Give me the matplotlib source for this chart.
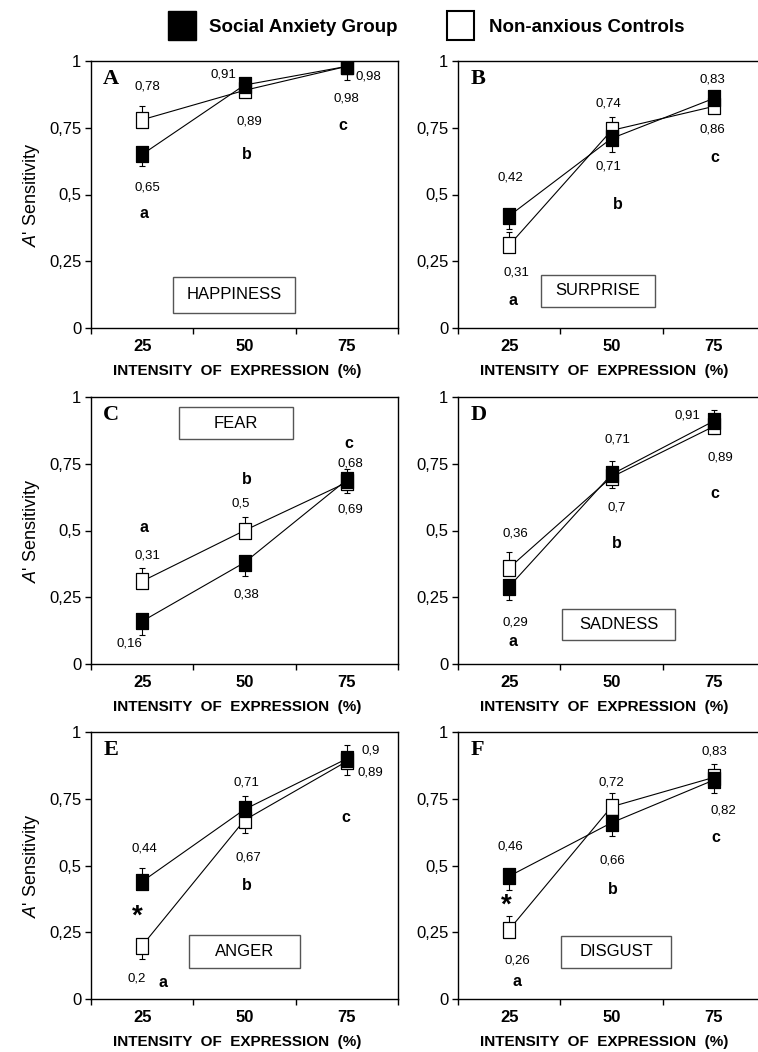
import matplotlib
matplotlib.use("Agg")
import matplotlib.pyplot as plt
from matplotlib.patches import Rectangle

plt.rcParams['font.family'] = ['Liberation Sans', 'DejaVu Sans']
plt.rcParams['mathtext.fontset'] = 'custom'
plt.rcParams['mathtext.it'] = 'Liberation Sans:italic'
plt.rcParams['mathtext.rm'] = 'Liberation Sans'

# data
intensity = ["25", "50", "75"]
emotions = ["HAPPINESS", "SURPRISE", "FEAR", "SADNESS", "ANGER", "DISGUST"]
panel_letters = ["A", "B", "C", "D", "E", "F"]
posthoc = ["a", "b", "c"]

sa_mean = [[0.65, 0.91, 0.98], [0.42, 0.71, 0.86], [0.16, 0.38, 0.69],
           [0.29, 0.71, 0.91], [0.44, 0.71, 0.90], [0.46, 0.66, 0.82]]
nc_mean = [[0.78, 0.89, 0.98], [0.31, 0.74, 0.83], [0.31, 0.50, 0.68],
           [0.36, 0.70, 0.89], [0.20, 0.67, 0.89], [0.26, 0.72, 0.83]]
# one-sided error bars: + drawn upwards, - drawn downwards
sa_err = [[-0.045, 0, 0.04], [-0.05, -0.05, 0], [-0.05, -0.05, 0.04],
          [-0.05, 0.05, 0.04], [0.05, 0.05, 0.05], [-0.05, -0.05, -0.05]]
nc_err = [[0.05, 0, -0.05], [0.05, 0.05, 0], [0.05, 0.05, -0.04],
          [0.06, -0.04, -0.03], [-0.05, -0.05, -0.05], [0.05, 0.05, 0.05]]
significant = [False, False, False, False, True, True]

# where the annotations sit (data coords) and the emotion boxes (axes coords)
label_layout = [
    dict(sa=[(0.55, 0.528), (1.29, 0.95), (2.71, 0.941)],
         nc=[(0.55, 0.905), (1.55, 0.775), (2.50, 0.858)],
         abc=[(0.52, 0.427), (1.52, 0.65), (2.46, 0.757)],
         star=None, box=(0.466, 0.124, 0.397, 0.135)),
    dict(sa=[(0.51, 0.564), (1.47, 0.605), (2.49, 0.744)],
         nc=[(0.57, 0.208), (1.47, 0.842), (2.49, 0.93)],
         abc=[(0.54, 0.103), (1.56, 0.462), (2.51, 0.64)],
         star=None, box=(0.456, 0.139, 0.371, 0.12)),
    dict(sa=[(0.38, 0.077), (1.52, 0.26), (2.53, 0.58)],
         nc=[(0.55, 0.408), (1.46, 0.60), (2.53, 0.75)],
         abc=[(0.52, 0.513), (1.52, 0.69), (2.52, 0.826)],
         star=None, box=(0.472, 0.902, 0.371, 0.12)),
    dict(sa=[(0.56, 0.156), (1.56, 0.84), (2.24, 0.93)],
         nc=[(0.56, 0.488), (1.55, 0.585), (2.56, 0.773)],
         abc=[(0.54, 0.086), (1.55, 0.45), (2.51, 0.64)],
         star=None, box=(0.523, 0.149, 0.368, 0.117)),
    dict(sa=[(0.52, 0.564), (1.52, 0.81), (2.73, 0.93)],
         nc=[(0.45, 0.075), (1.54, 0.53), (2.73, 0.85)],
         abc=[(0.70, 0.062), (1.52, 0.425), (2.49, 0.68)],
         star=(0.45, 0.31), box=(0.50, 0.179, 0.362, 0.124)),
    dict(sa=[(0.51, 0.57), (1.51, 0.52), (2.59, 0.707)],
         nc=[(0.58, 0.143), (1.50, 0.81), (2.51, 0.926)],
         abc=[(0.58, 0.065), (1.51, 0.41), (2.52, 0.606)],
         star=(0.47, 0.35), box=(0.515, 0.177, 0.358, 0.12)),
]

W, H = 758, 1052
col_left = [91, 458]
row_top = [61, 397, 732]
ax_w, ax_h = 307, 267

rect_marker = [(-0.34, -0.5), (0.34, -0.5), (0.34, 0.5), (-0.34, 0.5), (-0.34, -0.5)]
xpos = [0.5, 1.5, 2.5]


def fmt(v):
    return f"{v:g}".replace(".", ",")


def split_err(err):
    lo = [-e if e < 0 else 0 for e in err]
    hi = [e if e > 0 else 0 for e in err]
    return [lo, hi]


fig = plt.figure(figsize=(W / 100, H / 100), dpi=100)

for i in range(6):
    r, c = divmod(i, 2)
    left = col_left[c] / W
    bottom = 1 - (row_top[r] + ax_h) / H
    ax = fig.add_axes([left, bottom, ax_w / W, ax_h / H])

    sa, nc = sa_mean[i], nc_mean[i]
    ax.plot(xpos, nc, color='k', lw=0.8, zorder=2)
    ax.plot(xpos, sa, color='k', lw=0.8, zorder=2)
    ax.errorbar(xpos, nc, yerr=split_err(nc_err[i]), fmt='none', ecolor='k',
                elinewidth=0.8, capsize=2, capthick=0.8, zorder=2)
    ax.errorbar(xpos, sa, yerr=split_err(sa_err[i]), fmt='none', ecolor='k',
                elinewidth=0.8, capsize=2, capthick=0.8, zorder=2)
    ax.plot(xpos, nc, ls='none', marker=rect_marker, ms=12, mfc='white',
            mec='k', mew=0.9, zorder=3)
    ax.plot(xpos, sa, ls='none', marker=rect_marker, ms=12, mfc='black',
            mec='k', mew=0.9, zorder=4)

    lay = label_layout[i]
    for j in range(3):
        ax.text(*lay['sa'][j], fmt(sa[j]), ha='center', va='center', fontsize=9.5)
        ax.text(*lay['nc'][j], fmt(nc[j]), ha='center', va='center', fontsize=9.5)
        ax.text(*lay['abc'][j], posthoc[j], ha='center', va='center',
                fontsize=11.5, fontweight='bold')
    if significant[i]:
        ax.text(*lay['star'], "*", ha='center', va='center', fontsize=20,
                fontweight='bold')

    bx, by, bw, bh = lay['box']
    ax.add_patch(Rectangle((bx - bw / 2, by - bh / 2), bw, bh, transform=ax.transAxes,
                           facecolor='white', edgecolor='#555555', lw=1, zorder=5))
    ax.text(bx, by, emotions[i], transform=ax.transAxes, ha='center', va='center',
            fontsize=12, zorder=6)

    ax.text(0.04, 0.915, panel_letters[i], transform=ax.transAxes, ha='left',
            va='baseline', fontsize=16, fontweight='bold', family='Liberation Serif')

    ax.set_xlim(0, 3)
    ax.set_ylim(0, 1)
    ax.set_xticks([0, 1, 2, 3])
    ax.set_xticklabels([])
    ax.set_xticks(xpos, minor=True)
    ax.set_xticklabels(intensity, minor=True, fontsize=12, fontweight='bold')
    ax.tick_params(axis='x', which='major', direction='out', length=4, width=1)
    ax.tick_params(axis='x', which='minor', length=0, pad=8)
    ax.set_yticks([0, 0.25, 0.5, 0.75, 1])
    ax.set_yticklabels(["0", "0,25", "0,5", "0,75", "1"], fontsize=12)
    ax.tick_params(axis='y', direction='out', length=4, width=1, pad=3)
    for s in ax.spines.values():
        s.set_linewidth(1)

    ax.set_xlabel("INTENSITY  OF  EXPRESSION  (%)", fontsize=11, fontweight='bold')
    ax.xaxis.set_label_coords(0.476, -0.135)
    if c == 0:
        ax.set_ylabel(r"$\it{A}$' Sensitivity", fontsize=13)
        ax.yaxis.set_label_coords(-0.16, 0.5)

# legend keys at the top
fig.add_artist(Rectangle((168 / W, 1 - 40 / H), 28 / W, 29 / H, transform=fig.transFigure,
                         facecolor='black', edgecolor='black', lw=1))
fig.text(209 / W, 1 - 27 / H, "Social Anxiety Group", ha='left', va='center',
         fontsize=13.5, fontweight='bold')
fig.add_artist(Rectangle((447 / W, 1 - 40 / H), 27 / W, 29 / H, transform=fig.transFigure,
                         facecolor='white', edgecolor='black', lw=1.5))
fig.text(489 / W, 1 - 27 / H, "Non-anxious Controls", ha='left', va='center',
         fontsize=13.5, fontweight='bold')

fig.savefig("out.png", dpi=100)
